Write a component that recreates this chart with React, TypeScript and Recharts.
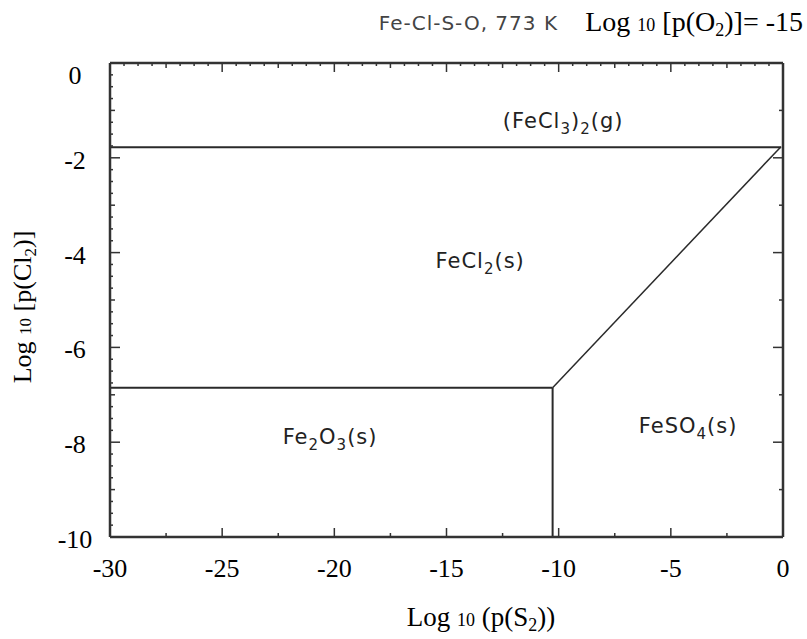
import { LineChart, Line, XAxis, YAxis, ReferenceDot } from "recharts";

// Fe-Cl-S-O predominance diagram, 773 K, log p(O2) = -15

const xMajorTicks = [-30, -25, -20, -15, -10, -5, 0];
const yMajorTicks = [-10, -8, -6, -4, -2, 0];
const xBottomTicks = [-30, -27.5, -25, -22.5, -20, -17.5, -15, -12.5, -10, -7.5, -5, -2.5, 0];
const yRightTicks = [-10, -9, -8, -7, -6, -5, -4, -3, -2, -1, 0];
const xTopTicks = Array.from({ length: 49 }, (_, i) => -30 + i * 0.625);
const yLeftTicks = Array.from({ length: 41 }, (_, i) => -10 + i * 0.25);

// phase boundaries (log p(S2), log p(Cl2))
const gasBoundaryX = [-30, -0.08];
const gasBoundaryY = [-1.78, -1.78];
const sulfateBoundaryX = [-10.27, -0.1];
const sulfateBoundaryY = [-6.85, -1.77];
const oxideBoundaryX = [-30, -10.27];
const oxideBoundaryY = [-6.85, -6.85];
const oxideSulfateX = [-10.27, -10.27];
const oxideSulfateY = [-6.85, -10];

// phase field labels
const phaseNames = ["(FeCl3)2(g)", "FeCl2(s)", "Fe2O3(s)", "FeSO4(s)"];
const phaseX = [-9.8, -13.5, -20.19, -4.23];
const phaseY = [-1.37, -4.32, -8.04, -7.81];

const INK = "#333";
const SERIF = "'Liberation Serif', 'Times New Roman', serif";
const SANS = "'DejaVu Sans', sans-serif";

const pts = (xs: number[], ys: number[]) => xs.map((x, i) => ({ x, y: ys[i] }));

// digits in formulas are subscripts
const Formula = ({ text, x, y }: { text: string; x: number; y: number }) => {
  const parts = text.split(/(\d+)/).filter((p) => p !== "");
  let low = false;
  return (
    <text x={x} y={y} textAnchor="middle" fontFamily={SANS} fontSize={21} letterSpacing={1} fill="#222">
      {parts.map((p, i) => {
        const sub = /^\d+$/.test(p);
        const dy = sub && !low ? 6 : !sub && low ? -6 : 0;
        low = sub;
        return (
          <tspan key={i} dy={dy} fontSize={sub ? 15 : 21}>
            {p}
          </tspan>
        );
      })}
    </text>
  );
};

const BottomTick = ({ x, y, payload }: any) => {
  const major = xMajorTicks.includes(payload.value);
  return (
    <g>
      <line x1={x} x2={x} y1={y} y2={y - (major ? 9 : 4)} stroke={INK} strokeWidth={1.5} />
      {major && (
        <text x={x} y={y + 40} textAnchor="middle" fontFamily={SERIF} fontSize={26} fill="#000">
          {payload.value}
        </text>
      )}
    </g>
  );
};

const TopTick = ({ x, y, payload }: any) => {
  const v = payload.value;
  const len = v % 5 === 0 ? 9 : v % 2.5 === 0 ? 5 : 3;
  return <line x1={x} x2={x} y1={y} y2={y + len} stroke={INK} strokeWidth={1.5} />;
};

const LeftTick = ({ x, y, payload }: any) => {
  const v = payload.value;
  const major = yMajorTicks.includes(v);
  const len = major ? 10 : v % 1 === 0 ? 5 : 3;
  return (
    <g>
      <line x1={x} x2={x + len} y1={y} y2={y} stroke={INK} strokeWidth={1.5} />
      {major && (
        <text x={x - 35} y={y + (v === 0 ? 21 : 11)} textAnchor="middle" fontFamily={SERIF} fontSize={26} fill="#000">
          {v}
        </text>
      )}
    </g>
  );
};

const RightTick = ({ x, y, payload }: any) => {
  const len = payload.value % 2 === 0 ? 10 : 4;
  return <line x1={x} x2={x - len} y1={y} y2={y} stroke={INK} strokeWidth={1.5} />;
};

const axisStyle = { stroke: INK, strokeWidth: 2.5 };

export default function App() {
  const lines = [
    { key: "gas", data: pts(gasBoundaryX, gasBoundaryY), w: 2 },
    { key: "sulfate", data: pts(sulfateBoundaryX, sulfateBoundaryY), w: 1.5 },
    { key: "oxide", data: pts(oxideBoundaryX, oxideBoundaryY), w: 2 },
    { key: "oxsulf", data: pts(oxideSulfateX, oxideSulfateY), w: 2 },
  ];

  return (
    <div style={{ position: "absolute", left: 0, top: 0, width: 807, height: 639, background: "#fff" }}>
      <LineChart width={807} height={639} margin={{ top: 62, right: 23, bottom: 101, left: 109 }}>
        <XAxis
          xAxisId="b"
          type="number"
          dataKey="x"
          domain={[-30, 0]}
          allowDataOverflow
          ticks={xBottomTicks}
          interval={0}
          height={1}
          tickSize={0}
          tickMargin={0}
          tick={(p: any) => <BottomTick {...p} />}
          axisLine={axisStyle}
          tickLine={false}
        />
        <XAxis
          xAxisId="t"
          orientation="top"
          type="number"
          dataKey="x"
          domain={[-30, 0]}
          allowDataOverflow
          ticks={xTopTicks}
          interval={0}
          height={1}
          tickSize={0}
          tickMargin={0}
          tick={(p: any) => <TopTick {...p} />}
          axisLine={axisStyle}
          tickLine={false}
        />
        <YAxis
          yAxisId="l"
          type="number"
          dataKey="y"
          domain={[-10, 0]}
          allowDataOverflow
          ticks={yLeftTicks}
          interval={0}
          width={1}
          tickSize={0}
          tickMargin={0}
          tick={(p: any) => <LeftTick {...p} />}
          axisLine={axisStyle}
          tickLine={false}
        />
        <YAxis
          yAxisId="r"
          orientation="right"
          type="number"
          dataKey="y"
          domain={[-10, 0]}
          allowDataOverflow
          ticks={yRightTicks}
          interval={0}
          width={1}
          tickSize={0}
          tickMargin={0}
          tick={(p: any) => <RightTick {...p} />}
          axisLine={axisStyle}
          tickLine={false}
        />
        {lines.map((l) => (
          <Line
            key={l.key}
            xAxisId="b"
            yAxisId="l"
            data={l.data}
            dataKey="y"
            stroke="#2a2a2a"
            strokeWidth={l.w}
            dot={false}
            isAnimationActive={false}
          />
        ))}
        {phaseNames.map((name, i) => (
          <ReferenceDot
            key={name}
            xAxisId="b"
            yAxisId="l"
            x={phaseX[i]}
            y={phaseY[i]}
            r={0}
            shape={(p: any) => <Formula text={name} x={p.cx} y={p.cy} />}
          />
        ))}
      </LineChart>
      <svg width={807} height={639} style={{ position: "absolute", left: 0, top: 0, pointerEvents: "none" }}>
        <text x={558} y={30} textAnchor="end" fontFamily={SANS} fontSize={20} letterSpacing={1} fill="#444">
          Fe-Cl-S-O, 773 K
        </text>
        <text x={803} y={31} textAnchor="end" fontFamily={SERIF} fontSize={28} fill="#000">
          Log <tspan fontSize={18}>10</tspan> [p(O<tspan fontSize={18} dy={5}>2</tspan><tspan dy={-5}>)]= -15</tspan>
        </text>
        <text x={481} y={626} textAnchor="middle" fontFamily={SERIF} fontSize={27} fill="#000">
          Log <tspan fontSize={18}>10</tspan> (p(S<tspan fontSize={18} dy={5}>2</tspan><tspan dy={-5}>))</tspan>
        </text>
        <text
          x={0}
          y={0}
          transform="translate(31,307) rotate(-90)"
          textAnchor="middle"
          fontFamily={SERIF}
          fontSize={26}
          fill="#000"
        >
          Log <tspan fontSize={17}>10</tspan> [p(Cl<tspan fontSize={17} dy={5}>2</tspan><tspan dy={-5}>)]</tspan>
        </text>
      </svg>
    </div>
  );
}
